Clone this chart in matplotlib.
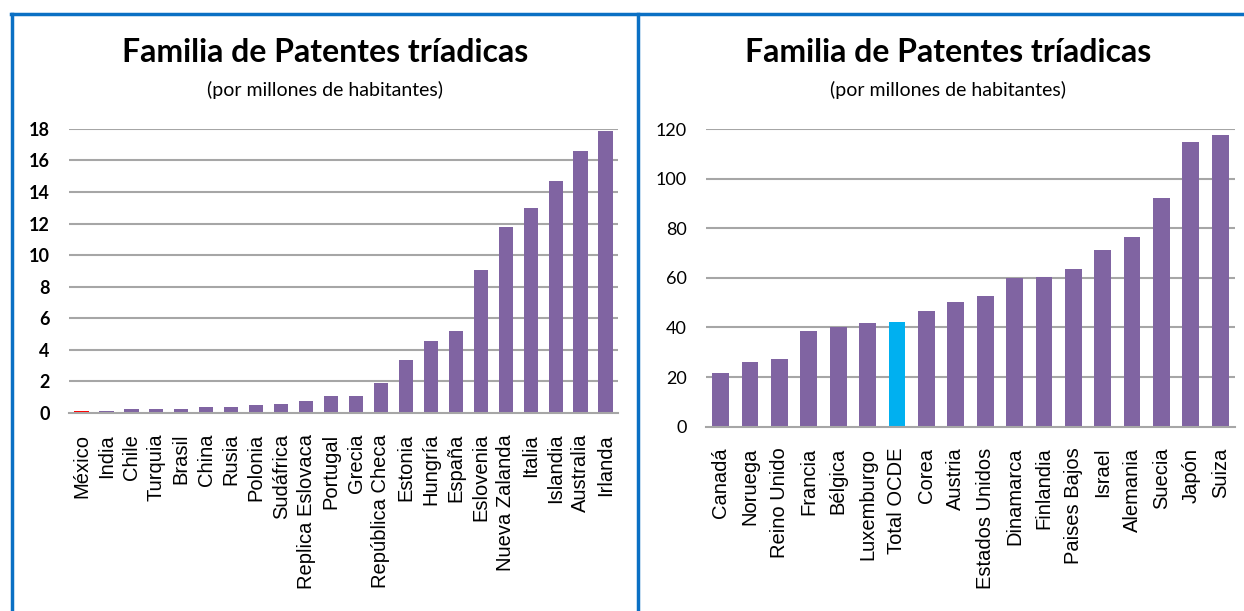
import matplotlib
matplotlib.use("Agg")
import matplotlib.pyplot as plt
from matplotlib.lines import Line2D

# Left chart data
paises_izq = ["México", "India", "Chile", "Turquia", "Brasil", "China", "Rusia",
              "Polonia", "Sudáfrica", "Replica Eslovaca", "Portugal", "Grecia",
              "República Checa", "Estonia", "Hungría", "España", "Eslovenia",
              "Nueva Zalanda", "Italia", "Islandia", "Australia", "Irlanda"]
valores_izq = [0.15, 0.15, 0.27, 0.27, 0.27, 0.4, 0.4, 0.53, 0.6, 0.78, 1.05, 1.1,
               1.88, 3.38, 4.58, 5.21, 9.05, 11.81, 12.97, 14.7, 16.62, 17.85]

# Right chart data
paises_der = ["Canadá", "Noruega", "Reino Unido", "Francia", "Bélgica", "Luxemburgo",
              "Total OCDE", "Corea", "Austria", "Estados Unidos", "Dinamarca",
              "Finlandia", "Paises Bajos", "Israel", "Alemania", "Suecia", "Japón", "Suiza"]
valores_der = [21.5, 26.1, 27.3, 38.4, 40.1, 41.7, 42.1, 46.5, 50.3, 52.7, 59.9,
               60.5, 63.7, 71.1, 76.3, 92.3, 114.8, 117.6]

yticks_izq = [0, 2, 4, 6, 8, 10, 12, 14, 16, 18]
yticks_der = [0, 20, 40, 60, 80, 100, 120]

titulo = "Familia de Patentes tríadicas"
subtitulo = "(por millones de habitantes)"

morado = "#8064A2"
rojo = "#FF0000"
celeste = "#00B0F0"
azul_borde = "#0A70C4"
gris = "#A6A6A6"

fig = plt.figure(figsize=(12.44, 6.11), dpi=100)


def dibujar(ax, paises, valores, destacado, color_dest, yticks, ymax, tick_bold):
    colores = [color_dest if p == destacado else morado for p in paises]
    x = range(len(paises))
    ax.bar(x, valores, width=0.57, color=colores, zorder=3)
    ax.set_xlim(-0.5, len(paises) - 0.5)
    ax.set_ylim(0, ymax)
    ax.set_yticks(yticks)
    ax.set_yticklabels([str(t) for t in yticks],
                       fontfamily="Lato", fontsize=13,
                       fontweight="bold" if tick_bold else "normal")
    ax.set_xticks(list(x))
    ax.set_xticklabels(paises, rotation=90, fontfamily="Liberation Sans", fontsize=14.5)
    ax.tick_params(axis="both", length=0)
    ax.tick_params(axis="x", pad=15)
    ax.tick_params(axis="y", pad=14)
    for t in yticks[1:]:
        ax.axhline(t, color=gris, lw=1.5, zorder=1)
    for s in ["top", "right", "left"]:
        ax.spines[s].set_visible(False)
    ax.spines["bottom"].set_color(gris)
    ax.spines["bottom"].set_linewidth(1.5)
    ax.spines["bottom"].set_zorder(4)


ax1 = fig.add_axes([0.0555, 0.324, 0.4413, 0.465])
dibujar(ax1, paises_izq, valores_izq, "México", rojo, yticks_izq, 18, True)

ax2 = fig.add_axes([0.5675, 0.3016, 0.4252, 0.4872])
dibujar(ax2, paises_der, valores_der, "Total OCDE", celeste, yticks_der, 120, False)

# titles
for cx in [325 / 1244, 948 / 1244]:
    fig.text(cx, 1 - 52 / 611, titulo, ha="center", va="center",
             fontfamily="Lato", fontweight="bold", fontsize=23)
    fig.text(cx, 1 - 90 / 611, subtitulo, ha="center", va="center",
             fontfamily="Lato", fontsize=14)

# panel borders
bordes = [
    ([12 / 1244, 12 / 1244], [0, 1 - 14 / 611]),
    ([11 / 1244, 1], [1 - 14 / 611, 1 - 14 / 611]),
    ([638.5 / 1244, 638.5 / 1244], [0, 1 - 14 / 611]),
]
for xs, ys in bordes:
    fig.add_artist(Line2D(xs, ys, color=azul_borde, lw=2.5, transform=fig.transFigure))

fig.savefig("out.png", dpi=100)
